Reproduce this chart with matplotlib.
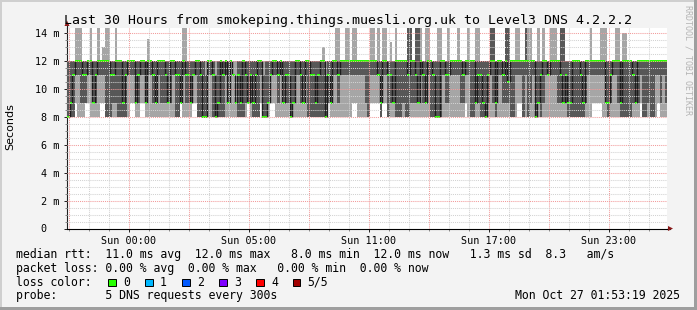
import numpy as np
import matplotlib
matplotlib.use("Agg")
from matplotlib import pyplot as plt
from matplotlib.patches import Rectangle, Polygon

# 5 pings per step, sorted low -> high, in ms (14.5 = off the top of the graph)
# one column every 7.5 minutes, 30 hours shown
ping1 = [8, 8, 8, 9, 8, 8, 8, 9, 9, 8, 8, 8, 8, 9, 9, 8, 8, 8, 8, 8,
         8, 8, 8, 8, 8, 9, 9, 8, 8, 9, 9, 8, 8, 8, 8, 8, 8, 8, 8, 8,
         8, 8, 8, 8, 8, 9, 8, 8, 8, 8, 9, 9, 8, 8, 8, 8, 8, 8, 8, 8,
         8, 8, 8, 8, 8, 8, 8, 8, 8, 8, 8, 8, 9, 8, 8, 8, 8, 9, 8, 8,
         8, 9, 9, 8, 8, 8, 8, 8, 8, 8, 8, 8, 8, 8, 8, 8, 8, 8, 8, 8,
         8, 8, 8, 8, 9, 8, 8, 8, 8, 8, 8, 8, 8, 8, 9, 9, 8, 8, 8, 8,
         8, 9, 9, 9, 9, 8, 9, 9, 8, 8, 8, 8, 8, 8, 8, 8, 8, 8, 8, 8,
         8, 8, 8, 8, 8, 8, 8, 8, 8, 8, 8, 8, 8, 8, 8, 8, 8, 8, 8, 9,
         8, 8, 8, 8, 8, 8, 8, 8, 8, 8, 8, 8, 8, 8, 8, 8, 8, 8, 8, 8,
         9, 9, 8, 8, 8, 8, 8, 8, 8, 8, 8, 8, 8, 8, 8, 8, 8, 8, 8, 8,
         8, 8, 8, 8, 8, 8, 8, 8, 8, 8, 9, 9, 9, 9, 8, 8, 8, 8, 8, 8,
         8, 8, 8, 8, 8, 8, 8, 8, 8, 9, 8, 8, 8, 8, 8, 8, 9, 8, 8, 8]
ping2 = [8, 8, 8, 11, 11, 9, 9, 9, 11, 11, 9, 9, 11, 11, 11, 8, 8, 8, 9, 9,
         8, 8, 8, 8, 11, 11, 11, 9, 9, 11, 11, 9, 11, 11, 9, 9, 11, 9, 9, 9,
         9, 9, 11, 8, 8, 9, 11, 9, 9, 9, 11, 11, 8, 8, 8, 8, 11, 11, 8, 8,
         8, 8, 8, 11, 9, 12, 11, 9, 8, 8, 8, 9, 9, 9, 8, 8, 8, 11, 8, 8,
         9, 11, 11, 11, 9, 11, 9, 9, 9, 8, 9, 11, 11, 9, 9, 11, 8, 8, 8, 8,
         8, 8, 8, 8, 9, 9, 11, 11, 9, 11, 11, 11, 11, 11, 11, 11, 11, 11, 11, 9,
         8, 11, 11, 11, 11, 8, 11, 11, 8, 9, 9, 8, 8, 8, 9, 8, 8, 9, 9, 9,
         9, 11, 9, 9, 11, 8, 8, 8, 8, 8, 11, 9, 9, 11, 11, 11, 11, 9, 9, 11,
         11, 8, 8, 9, 9, 8, 8, 8, 9, 11, 9, 8, 11, 11, 9, 9, 9, 8, 8, 11,
         11, 11, 8, 11, 8, 9, 11, 8, 9, 8, 9, 11, 11, 11, 11, 11, 9, 9, 9, 9,
         8, 8, 8, 8, 8, 8, 8, 9, 11, 11, 11, 11, 11, 11, 11, 9, 8, 9, 11, 11,
         9, 8, 8, 8, 8, 8, 9, 9, 9, 11, 8, 8, 9, 8, 8, 11, 11, 9, 11, 9]
ping3 = [8, 9, 11, 12, 12, 12, 11, 11, 12, 12, 9, 11, 12, 12, 12, 12, 12, 11, 11, 12,
         12, 12, 9, 11, 12, 12, 12, 9, 11, 12, 12, 9, 12, 12, 11, 9, 12, 12, 12, 11,
         9, 12, 12, 11, 11, 9, 12, 11, 11, 9, 11, 12, 12, 11, 8, 8, 12, 12, 11, 8,
         9, 12, 11, 12, 9, 12, 11, 9, 11, 9, 12, 11, 9, 11, 9, 11, 12, 12, 8, 8,
         9, 11, 12, 12, 11, 12, 9, 11, 11, 8, 9, 12, 12, 11, 9, 12, 12, 11, 11, 9,
         11, 12, 12, 8, 11, 9, 12, 12, 11, 12, 12, 12, 12, 12, 12, 12, 12, 12, 12, 12,
         12, 12, 12, 12, 11, 9, 12, 12, 11, 11, 9, 12, 12, 12, 12, 12, 11, 12, 12, 11,
         9, 12, 11, 9, 12, 12, 11, 8, 8, 12, 12, 11, 11, 12, 12, 12, 12, 12, 11, 12,
         12, 12, 12, 9, 11, 11, 9, 8, 11, 12, 12, 9, 12, 12, 11, 12, 10.5, 12, 12, 12,
         12, 12, 12, 12, 12, 12, 12, 8, 9, 11, 12, 12, 11, 12, 12, 12, 12, 11, 9, 11,
         9, 9, 12, 12, 12, 11, 9, 12, 12, 12, 12, 12, 12, 12, 12, 9, 9, 11, 12, 12,
         12, 9, 12, 12, 12, 12, 11, 9, 12, 12, 12, 12, 12, 12, 12, 12, 12, 12, 12, 12]
ping4 = [12, 12, 12, 12, 12, 12, 12, 12, 12, 12, 12, 12, 12, 12, 12, 12, 12, 12, 12, 12,
         12, 12, 12, 12, 12, 12, 12, 12, 12, 12, 12, 12, 12, 12, 12, 12, 12, 12, 12, 12,
         12, 12, 12, 12, 12, 12, 12, 12, 12, 12, 12, 12, 12, 12, 12, 11, 12, 12, 12, 11,
         12, 12, 12, 12, 12, 12, 11, 9, 12, 12, 12, 12, 12, 12, 12, 12, 12, 12, 11, 12,
         12, 12, 12, 12, 12, 12, 12, 12, 12, 12, 12, 12, 12, 12, 12, 12, 12, 12, 12, 12,
         12, 12, 12, 11, 12, 12, 12, 12, 12, 12, 12, 12, 12, 12, 12, 12, 12, 12, 12, 12,
         12, 12, 12, 12, 12, 12, 12, 12, 12, 12, 12, 12, 12, 12, 12, 12, 14.5, 14.5, 12, 14.5,
         14.5, 12, 12, 12, 12, 12, 12, 12, 12, 12, 12, 12, 12, 12, 12, 12, 12, 12, 12, 12,
         12, 12, 12, 12, 12, 12, 12, 12, 12, 14.5, 14.5, 12, 12, 12, 12, 14.5, 14.5, 12, 12, 12,
         12, 12, 12, 14.5, 12, 12, 12, 12, 12, 12, 12, 12, 12, 12, 12, 12, 12, 14.5, 14.5, 12,
         12, 12, 12, 12, 12, 12, 12, 12, 12, 12, 12, 12, 12, 12, 12, 12, 12, 12, 12, 12,
         12, 12, 12, 12, 12, 12, 12, 12, 12, 12, 12, 12, 12, 12, 12, 12, 12, 12, 12, 12]
ping5 = [12, 12, 12, 14.5, 14.5, 14.5, 12, 12, 12, 14.5, 12, 12, 14.5, 12, 13, 14.5, 14.5, 12, 12, 14.5,
         12, 12, 12, 12, 12, 12, 12, 12, 12, 12, 12, 12, 13.6, 12, 12, 12, 12, 12, 12, 12,
         12, 12, 12, 12, 12, 12, 14.5, 14.5, 12, 12, 12, 12, 12, 12, 12, 12, 12, 12, 12, 12,
         12, 12, 12, 12, 12, 12, 12, 12, 12, 12, 12, 12, 12, 12, 12, 12, 12, 12, 12, 12,
         12, 12, 12, 12, 12, 12, 12, 12, 12, 12, 12, 12, 12, 12, 12, 12, 12, 12, 12, 12,
         12, 12, 13, 12, 12, 12, 12, 14.5, 14.5, 12, 12, 14.5, 14.5, 12, 14.5, 14.5, 12, 12, 12, 12,
         12, 14.5, 14.5, 12, 14.5, 12, 14.5, 14.5, 12, 13.4, 12, 14.5, 12, 12, 12, 12, 14.5, 14.5, 12, 14.5,
         14.5, 14.5, 12, 14.5, 14.5, 12, 12, 12, 14.5, 14.5, 12, 12, 14.5, 12, 12, 12, 14.5, 12, 12, 12,
         14.5, 12, 12, 14.5, 14.5, 12, 12, 12, 12, 14.5, 14.5, 12, 12, 12, 12, 14.5, 14.5, 12, 12, 14.5,
         14.5, 12, 12, 14.5, 14.5, 14.5, 12, 12, 14.5, 12, 14.5, 12, 12, 14.5, 14.5, 14.5, 12, 14.5, 14.5, 12,
         12, 12, 12, 12, 12, 12, 12, 12, 12, 14.5, 12, 12, 12, 14.5, 14.5, 14.5, 12, 12, 12, 14.5,
         14.5, 12, 14, 14, 12, 12, 12, 12, 12, 12, 12, 12, 12, 12, 12, 12, 12, 12, 12, 12]

step_hours = 0.125
x_labels = ["Sun 00:00", "Sun 05:00", "Sun 11:00", "Sun 17:00", "Sun 23:00"]
x_label_hours = [3.08, 9.08, 15.08, 21.08, 27.08]
y_ticks = [0, 2, 4, 6, 8, 10, 12, 14]
y_labels = ["0  ", "2 m", "4 m", "6 m", "8 m", "10 m", "12 m", "14 m"]

legend_lines = [
    "median rtt:  11.0 ms avg  12.0 ms max   8.0 ms min  12.0 ms now   1.3 ms sd  8.3   am/s",
    "packet loss: 0.00 % avg  0.00 % max   0.00 % min  0.00 % now",
    "loss color:",
    "probe:       5 DNS requests every 300s",
]
loss_names = ["0", "1", "2", "3", "4", "5/5"]
loss_colors = ["#26ff00", "#00b8ff", "#0059ff", "#7e00ff", "#ff0000", "#a10000"]
timestamp = "Mon Oct 27 01:53:19 2025"

W, H = 697, 310
mono = "DejaVu Sans Mono"

fig = plt.figure(figsize=(W / 100, H / 100), dpi=100, facecolor="#f3f3f3")

# background layer in pixel coordinates
bg = fig.add_axes([0, 0, 1, 1], zorder=0)
bg.set_xlim(0, W)
bg.set_ylim(H, 0)
bg.axis("off")
bg.add_patch(Rectangle((0, 0), W, 2, color="#cfcfcf", lw=0))
bg.add_patch(Rectangle((0, 0), 2, H, color="#cfcfcf", lw=0))
bg.add_patch(Rectangle((0, H - 3), W, 3, color="#9e9e9e", lw=0))
bg.add_patch(Rectangle((W - 3, 0), 3, H, color="#9e9e9e", lw=0))

# plot area: x 67..667 px, y 27.7..228.5 px
x0, x1, ytop, ybot = 67, 667, 27.7, 228.5
ax = fig.add_axes([x0 / W, 1 - ybot / H, (x1 - x0) / W, (ybot - ytop) / H], zorder=1)
ax.set_facecolor("white")
ax.set_xlim(0, 30)
ax.set_ylim(0, 14.41)

p1, p2, p3, p4, p5 = (np.array(p, dtype=float) for p in (ping1, ping2, ping3, ping4, ping5))
xs = np.arange(len(p1)) * step_hours

# smoke
ax.bar(xs, p5 - p1, bottom=p1, width=step_hours, align="edge",
       color="#a6a6a6", linewidth=0, antialiased=False, zorder=2)
ax.bar(xs, p4 - p2, bottom=p2, width=step_hours, align="edge",
       color="#575757", linewidth=0, antialiased=False, zorder=3)

# median jumps
for i in range(1, len(p3)):
    if p3[i] != p3[i - 1]:
        ax.vlines(xs[i], min(p3[i], p3[i - 1]), max(p3[i], p3[i - 1]),
                  color="#1c1c1c", lw=1.0, zorder=4)

# median (loss 0 -> green)
ax.bar(xs, 0.15, bottom=p3 - 0.075, width=step_hours, align="edge",
       color=loss_colors[0], linewidth=0, antialiased=False, zorder=5)

# grid on top, like rrdtool
dots = (0, (1, 1))
for h in np.arange(0.08, 30, 1.0):
    major = abs((h - 0.08) % 3) < 1e-6
    ax.axvline(h, color="#f29b9b" if major else "#d2d2d2", lw=0.75, ls=dots, zorder=6)
for v in np.arange(0.5, 14.41, 0.5):
    major = abs(v % 2) < 1e-6
    ax.axhline(v, color="#f29b9b" if major else "#d2d2d2", lw=0.75, ls=dots, zorder=6)

for s in ["top", "right"]:
    ax.spines[s].set_visible(False)
ax.spines["left"].set_color("#202020")
ax.spines["bottom"].set_color("black")
ax.spines["left"].set_linewidth(0.8)
ax.spines["bottom"].set_linewidth(0.8)

ax.set_yticks(y_ticks)
ax.set_yticklabels(y_labels, family=mono, fontsize=7.3)
ax.set_xticks(x_label_hours)
ax.set_xticklabels(x_labels, family=mono, fontsize=7.3)
ax.set_xticks(np.arange(0.08, 30, 1.0), minor=True)
ax.set_yticks(np.arange(0, 14.41, 0.5), minor=True)
ax.tick_params(axis="both", which="major", length=2.5, width=0.7, color="#202020", pad=3)
ax.tick_params(axis="both", which="minor", length=1.5, width=0.5, color="#606060")

# axis arrows
arrow_c = "#8b1a1a"
bg.plot([x1, 670], [ybot, ybot], color="black", lw=0.8, zorder=2)
bg.add_patch(Polygon([[668, 226], [668, 231], [673, 228.5]], closed=True, color=arrow_c, lw=0, zorder=3))
bg.plot([x0, x0], [ytop, 24], color="#202020", lw=0.8, zorder=2)
bg.add_patch(Polygon([[64.5, 26], [69.5, 26], [67, 20.5]], closed=True, color=arrow_c, lw=0, zorder=3))

# texts
bg.text(64, 24, "Last 30 Hours from smokeping.things.muesli.org.uk to Level3 DNS 4.2.2.2",
        family=mono, fontsize=9.5, va="baseline", ha="left", color="black")
bg.text(10.5, 127, "Seconds", rotation=90, fontsize=8, ha="center", va="center",
        family="DejaVu Sans", color="black")
bg.text(688, 5, "RRDTOOL / TOBI OETIKER", rotation=270, fontsize=6, ha="center", va="top",
        family=mono, color="#b4b4b4")

baselines = [258, 271.7, 285.5, 299.3]
for line, yb in zip(legend_lines, baselines):
    bg.text(16, yb, line, family=mono, fontsize=8.3, va="baseline", ha="left", color="black")
bg.text(680, baselines[3], timestamp, family=mono, fontsize=8.3, va="baseline", ha="right",
        color="black")

box_x = [108, 145, 182, 219, 256, 292.5]
for bx, name, col in zip(box_x, loss_names, loss_colors):
    bg.add_patch(Rectangle((bx, 278.5), 7.5, 7.5, facecolor=col, edgecolor="black", lw=0.7))
    bg.text(bx + 15, baselines[2], name, family=mono, fontsize=8.3, va="baseline", ha="left",
            color="black")

fig.savefig("out.png", dpi=100, facecolor=fig.get_facecolor())
